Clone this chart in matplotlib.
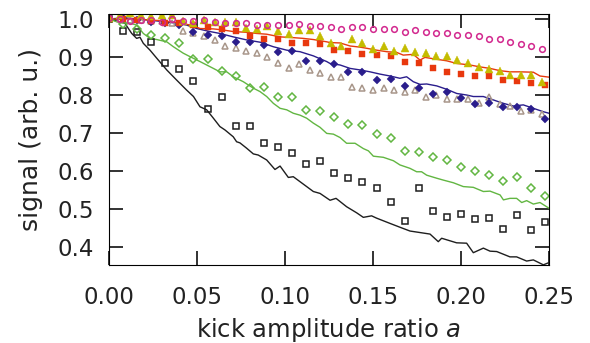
import numpy as np
import matplotlib
matplotlib.use("Agg")
import matplotlib.pyplot as plt

# sample grids of the two kinds of measurement
x_coarse = np.round(np.arange(32) * 0.008, 3)
x_fine = np.round(np.arange(42) * 0.006, 3)

black_squares = [1.0, 0.969, 0.966, 0.939, 0.885, 0.868, 0.837, 0.763, 0.796, 0.719,
                 0.719, 0.673, 0.662, 0.647, 0.618, 0.625, 0.596, 0.581, 0.570, 0.556,
                 0.519, 0.469, 0.556, 0.494, 0.480, 0.487, 0.473, 0.476, 0.447, 0.483,
                 0.444, 0.465]
green_diamonds = [1.0, 0.987, 0.975, 0.959, 0.951, 0.937, 0.895, 0.895, 0.862, 0.851,
                  0.818, 0.822, 0.795, 0.796, 0.761, 0.758, 0.741, 0.724, 0.721, 0.697,
                  0.687, 0.653, 0.650, 0.636, 0.629, 0.611, 0.599, 0.589, 0.574, 0.585,
                  0.556, 0.534]
navy_diamonds = [1.0, 1.003, 0.997, 0.993, 0.990, 0.983, 0.966, 0.958, 0.955, 0.939,
                 0.939, 0.931, 0.913, 0.917, 0.890, 0.890, 0.882, 0.861, 0.861, 0.839,
                 0.843, 0.825, 0.818, 0.803, 0.808, 0.792, 0.776, 0.778, 0.768, 0.768,
                 0.762, 0.737]
red_squares = [1.0, 1.0, 0.998, 0.995, 0.989, 0.989, 0.984, 0.978, 0.975, 0.968,
               0.954, 0.948, 0.947, 0.937, 0.937, 0.934, 0.919, 0.915, 0.909, 0.905,
               0.902, 0.887, 0.883, 0.872, 0.861, 0.855, 0.850, 0.850, 0.839, 0.836,
               0.832, 0.826]
magenta_circles = [1.002, 0.999, 0.996, 0.997, 0.997, 0.993, 1.0, 0.996, 0.996, 0.997,
                   0.993, 0.989, 0.989, 0.989, 0.985, 0.984, 0.983, 0.983, 0.986, 0.981,
                   0.981, 0.978, 0.974, 0.978, 0.978, 0.974, 0.974, 0.974, 0.967, 0.971,
                   0.967, 0.964, 0.964, 0.958, 0.958, 0.956, 0.947, 0.947, 0.940, 0.934,
                   0.930, 0.920]
yellow_triangles = [1.003, 1.011, 1.016, 1.010, 1.007, 1.011, 1.010, 0.996, 0.990, 0.997,
                    0.991, 0.991, 0.992, 0.976, 0.975, 0.981, 0.968, 0.961, 0.972, 0.970,
                    0.954, 0.937, 0.930, 0.947, 0.938, 0.921, 0.929, 0.917, 0.925, 0.914,
                    0.910, 0.903, 0.903, 0.892, 0.885, 0.874, 0.868, 0.864, 0.853, 0.853,
                    0.853, 0.834]
tan_triangles = [1.0, 0.999, 0.998, 0.997, 0.996, 0.995, 0.990, 0.969, 0.962, 0.954,
                 0.946, 0.928, 0.925, 0.917, 0.910, 0.900, 0.884, 0.870, 0.882, 0.866,
                 0.857, 0.848, 0.848, 0.822, 0.818, 0.813, 0.818, 0.813, 0.809, 0.813,
                 0.795, 0.800, 0.789, 0.789, 0.789, 0.779, 0.794, 0.776, 0.771, 0.758,
                 0.760, 0.750]

# simulation curves
black_line_x = [0, 0.009, 0.0129, 0.0157, 0.0176, 0.0195, 0.0233, 0.0271, 0.0328, 0.0385,
                0.0441, 0.048, 0.0517, 0.0555, 0.0593, 0.063, 0.0659, 0.0706, 0.0725, 0.0744,
                0.0782, 0.082, 0.0848, 0.0896, 0.0943, 0.0972, 0.1019, 0.1047, 0.1085, 0.1161,
                0.1199, 0.1256, 0.129, 0.135, 0.1407, 0.1445, 0.1492, 0.152, 0.1597, 0.1653,
                0.171, 0.1767, 0.1824, 0.1871, 0.189, 0.1975, 0.2032, 0.207, 0.2127, 0.2165,
                0.2203, 0.2278, 0.2316, 0.2373, 0.2411, 0.2468, 0.25]
black_line_y = [1.0, 0.989, 0.962, 0.949, 0.952, 0.936, 0.918, 0.897, 0.866, 0.839,
                0.813, 0.796, 0.769, 0.761, 0.739, 0.717, 0.708, 0.690, 0.677, 0.674,
                0.660, 0.645, 0.642, 0.629, 0.604, 0.613, 0.583, 0.585, 0.572, 0.546,
                0.541, 0.523, 0.528, 0.506, 0.490, 0.478, 0.482, 0.476, 0.462, 0.452,
                0.442, 0.438, 0.434, 0.414, 0.423, 0.411, 0.410, 0.385, 0.397, 0.389,
                0.388, 0.374, 0.374, 0.363, 0.366, 0.353, 0.359]

green_line_x = [0, 0.006, 0.012, 0.0157, 0.0195, 0.0233, 0.0271, 0.0328, 0.0366, 0.0422,
                0.046, 0.0517, 0.0555, 0.0593, 0.063, 0.0669, 0.0706, 0.0763, 0.082, 0.0858,
                0.0896, 0.0934, 0.0972, 0.101, 0.1047, 0.1085, 0.1123, 0.1161, 0.1199, 0.1237,
                0.1275, 0.1313, 0.135, 0.1398, 0.1445, 0.1474, 0.1502, 0.1559, 0.1616, 0.1653,
                0.171, 0.1748, 0.1776, 0.1805, 0.1862, 0.19, 0.1957, 0.2013, 0.207, 0.2127,
                0.2165, 0.2222, 0.2241, 0.2278, 0.2316, 0.2345, 0.2373, 0.2411, 0.2449, 0.25]
green_line_y = [1.0, 0.990, 0.989, 0.984, 0.962, 0.949, 0.946, 0.940, 0.927, 0.910,
                0.901, 0.888, 0.879, 0.870, 0.861, 0.861, 0.848, 0.835, 0.818, 0.809,
                0.796, 0.778, 0.765, 0.761, 0.752, 0.747, 0.739, 0.726, 0.715, 0.699,
                0.697, 0.688, 0.673, 0.673, 0.659, 0.653, 0.639, 0.636, 0.627, 0.616,
                0.607, 0.598, 0.598, 0.589, 0.581, 0.576, 0.569, 0.559, 0.557, 0.546,
                0.547, 0.537, 0.524, 0.528, 0.528, 0.517, 0.522, 0.513, 0.517, 0.502]

red_line_x = [0, 0.006, 0.012, 0.0157, 0.0233, 0.029, 0.0328, 0.0404, 0.048, 0.0517,
              0.0593, 0.065, 0.0706, 0.0782, 0.0839, 0.0896, 0.0972, 0.1047, 0.1104, 0.1161,
              0.1237, 0.1256, 0.1313, 0.137, 0.1426, 0.1464, 0.1521, 0.1578, 0.1635, 0.1672,
              0.1729, 0.1767, 0.1795, 0.1862, 0.1919, 0.1976, 0.2051, 0.2108, 0.2165, 0.2222,
              0.2278, 0.2335, 0.2411, 0.2449, 0.25]
red_line_y = [1.0, 1.0, 1.0, 1.0, 0.997, 0.996, 0.993, 0.990, 0.982, 0.975,
              0.974, 0.971, 0.967, 0.965, 0.962, 0.960, 0.953, 0.951, 0.949, 0.946,
              0.940, 0.938, 0.937, 0.929, 0.926, 0.923, 0.918, 0.914, 0.912, 0.905,
              0.907, 0.892, 0.899, 0.894, 0.890, 0.883, 0.879, 0.874, 0.870, 0.864,
              0.861, 0.861, 0.860, 0.850, 0.847]

navy_line_x = [0, 0.0081, 0.0119, 0.0176, 0.0233, 0.0309, 0.0385, 0.0441, 0.0498, 0.0574,
               0.063, 0.0706, 0.0782, 0.0858, 0.0934, 0.101, 0.1085, 0.1161, 0.1237, 0.1256,
               0.1313, 0.137, 0.1426, 0.1483, 0.154, 0.1597, 0.1653, 0.1691, 0.1729, 0.1767,
               0.1805, 0.1862, 0.1919, 0.1976, 0.2032, 0.207, 0.2127, 0.2184, 0.2241, 0.2297,
               0.2354, 0.2411, 0.2468, 0.25]
navy_line_y = [1.0, 1.003, 1.002, 0.999, 0.997, 0.993, 0.989, 0.984, 0.975, 0.967,
               0.962, 0.953, 0.945, 0.939, 0.927, 0.918, 0.914, 0.903, 0.888, 0.883,
               0.879, 0.870, 0.866, 0.861, 0.855, 0.850, 0.844, 0.848, 0.835, 0.828,
               0.829, 0.824, 0.815, 0.804, 0.800, 0.796, 0.796, 0.787, 0.778, 0.771,
               0.774, 0.765, 0.756, 0.752]

x_ticks = [0.0, 0.05, 0.10, 0.15, 0.20, 0.25]
x_tick_labels = ["0.00", "0.05", "0.10", "0.15", "0.20", "0.25"]
y_ticks = [0.4, 0.5, 0.6, 0.7, 0.8, 0.9, 1.0]
y_tick_labels = ["0.4", "0.5", "0.6", "0.7", "0.8", "0.9", "1.0"]

BLACK = "#1e1e1e"
GREEN = "#62b642"
NAVY = "#2a1d8c"
RED = "#e8380e"
YELLOW = "#c4bc00"
TAN = "#a8968a"
MAGENTA = "#d2288e"
AXIS = "#222222"

fig = plt.figure(figsize=(5.9, 3.43), dpi=100)
ax = fig.add_axes([109 / 590, 78 / 343, 440 / 590, 251 / 343])

# curves first
ax.plot(black_line_x, black_line_y, color=BLACK, lw=1.0)
ax.plot(green_line_x, green_line_y, color=GREEN, lw=1.0)
ax.plot(navy_line_x, navy_line_y, color=NAVY, lw=1.0)
ax.plot(red_line_x, red_line_y, color=RED, lw=1.0)

# measured points
ax.plot(x_fine, tan_triangles, "^", ms=4.6, mfc="none", mec=TAN, mew=1.1)
ax.plot(x_coarse, black_squares, "s", ms=4.1, mfc="none", mec=BLACK, mew=1.1)
ax.plot(x_coarse, green_diamonds, "D", ms=3.7, mfc="none", mec=GREEN, mew=1.1)
ax.plot(x_coarse, navy_diamonds, "D", ms=4.3, mfc=NAVY, mec=NAVY, mew=0.3)
ax.plot(x_coarse, red_squares, "s", ms=5.0, mfc=RED, mec=RED, mew=0.3)
ax.plot(x_fine, yellow_triangles, "^", ms=5.4, mfc=YELLOW, mec=YELLOW, mew=0.3)
ax.plot(x_fine, magenta_circles, "o", ms=4.1, mfc="none", mec=MAGENTA, mew=1.1)

ax.set_xlim(0, 0.25)
ax.set_ylim(0.3526, 1.0132)
ax.set_xticks(x_ticks)
ax.set_xticklabels(x_tick_labels)
ax.set_yticks(y_ticks)
ax.set_yticklabels(y_tick_labels)
ax.tick_params(axis="both", which="major", direction="in", length=10, width=1.3,
               labelsize=16.5, bottom=True, left=True, top=True, right=True,
               colors=AXIS)
ax.tick_params(axis="x", pad=15)
ax.tick_params(axis="y", pad=11)

ax.set_xlabel("kick amplitude ratio $a$", fontsize=17.5, labelpad=5, color=AXIS)
ax.set_ylabel("signal (arb. u.)", fontsize=18, labelpad=10, color=AXIS)

fig.savefig("out.png", dpi=100)
